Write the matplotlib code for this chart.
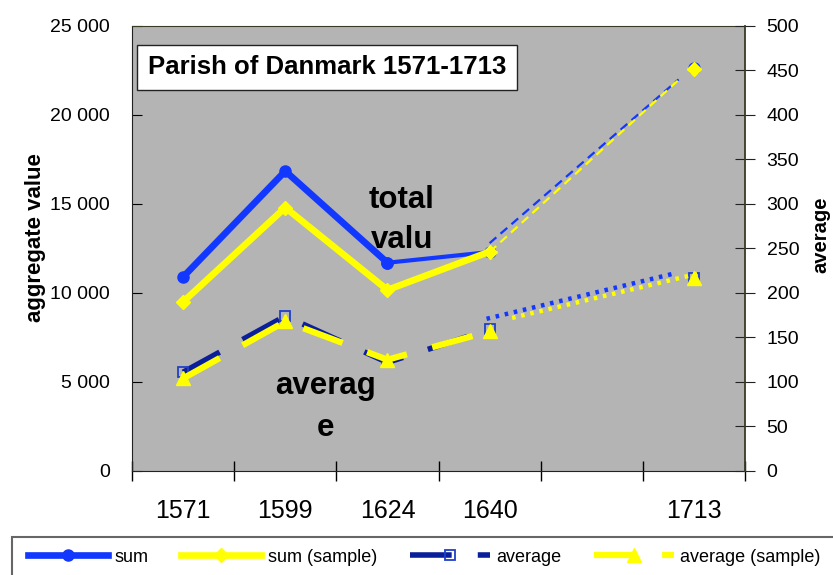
import numpy as np
import matplotlib
matplotlib.use("Agg")
import matplotlib.pyplot as plt
from matplotlib.patches import Rectangle
from matplotlib.ticker import FuncFormatter, FixedLocator

plt.rcParams['font.family'] = ['Liberation Sans', 'DejaVu Sans']

# data
years = ['1571', '1599', '1624', '1640', '', '1713']
total = [10900, 16850, 11700, 12300, np.nan, 22640]          # sum
total_s = [9500, 14800, 10170, 12320, np.nan, 22600]         # sum (sample)
avg = [111, 174, 122, 159, np.nan, 217]                      # average
avg_s = [104, 168, 125, 157, np.nan, 217]                    # average (sample)

# hand drawn connectors 1640 -> 1713 (category position, value)
link_x = [3.0, 4.85]
link_total = [12800, 22000]
link_total_s = [12300, 21970]
link_avg_x = [2.97, 4.81]
link_avg = [171, 222]
link_avg_s_x = [3.22, 5.05]
link_avg_s = [172, 222]

blue = '#1238ff'
navy = '#0a1f99'
yellow = '#ffff00'

fig = plt.figure(figsize=(8.33, 5.75), dpi=100)
ax = fig.add_axes([0.1585, 0.1809, 0.7359, 0.7739])
ax.set_facecolor('#b4b4b4')
x = np.arange(len(years))

# sum: the 1624-1640 piece is drawn thinner in the original
l1, = ax.plot(x[:3], total[:3], color=blue, lw=4.8, marker='o', ms=8, mfc=blue, mec=blue, label='sum', zorder=3)
ax.plot(x[2:], total[2:], color=blue, lw=3, marker='o', ms=8, mfc=blue, mec=blue, zorder=3)
l2, = ax.plot(x, total_s, color=yellow, lw=4.8, marker='D', ms=7, mfc=yellow, mec=yellow, label='sum (sample)', zorder=3)
ax.plot(link_x, link_total, color=blue, lw=1.6, dashes=(4, 2.5), zorder=4)
ax.plot(link_x, link_total_s, color=yellow, lw=1.6, dashes=(4, 2.5), zorder=4)

ax.set_xlim(-0.5, 5.5)
ax.set_ylim(0, 25000)
ax.set_yticks(np.arange(0, 25001, 5000))
ax.yaxis.set_major_formatter(FuncFormatter(lambda v, p: f'{int(v):,}'.replace(',', ' ')))
ax.tick_params(axis='y', direction='in', length=7, pad=16, labelsize=14, colors='black')
ax.xaxis.set_major_locator(FixedLocator(np.arange(-0.5, 6, 1)))
ax.xaxis.set_minor_locator(FixedLocator(x))
ax.set_xticklabels([], minor=False)
ax.set_xticklabels(years, minor=True)
ax.tick_params(axis='x', which='major', direction='inout', length=14, width=1)
ax.tick_params(axis='x', which='minor', length=0, pad=20, labelsize=18)
ax.set_ylabel('aggregate value', fontsize=16, fontweight='bold')
ax.yaxis.set_label_coords(-0.14, 0.525)
for s in ['left', 'bottom']:
    ax.spines[s].set_color('#222222')
ax.spines['top'].set_color('#3a3a22')
ax.spines['right'].set_visible(False)

ax2 = ax.twinx()
l3, = ax2.plot(x, avg, color=navy, lw=4, dashes=(7.5, 4.7), marker='s', ms=7, mfc='none', mec='#2040c8',
               mew=1.3, label='average', zorder=3)
l4, = ax2.plot(x, avg_s, color=yellow, lw=4.5, dashes=(6.7, 4.2), marker='^', ms=10, mfc=yellow, mec=yellow,
               label='average (sample)', zorder=3)
ax2.plot(link_avg_x, link_avg, color=blue, lw=3.2, dashes=(0.8, 1.3), zorder=4)
ax2.plot(link_avg_s_x, link_avg_s, color=yellow, lw=3.2, dashes=(0.8, 1.3), zorder=4)
ax2.set_ylim(0, 500)
ax2.set_yticks(np.arange(0, 501, 50))
ax2.tick_params(axis='y', direction='inout', length=15, pad=8, labelsize=14, color='#222222')
ax2.spines['right'].set_color('#3a3a22')
ax2.spines['right'].set_linewidth(1.3)
for s in ['left', 'top', 'bottom']:
    ax2.spines[s].set_visible(False)
ax2.set_ylabel('average', fontsize=14.5, fontweight='bold')
ax2.yaxis.set_label_coords(1.109, 0.53)

ax.text(0.318, 0.907, 'Parish of Danmark 1571-1713', transform=ax.transAxes, ha='center', va='center',
        fontsize=18.5, fontweight='bold',
        bbox=dict(boxstyle='square,pad=0.42', fc='white', ec='#222222', lw=1))
ax.text(2.14, 14100, 'total\nvalu', ha='center', va='center', fontsize=22.5, fontweight='bold',
        linespacing=1.45, zorder=2)
ax.text(1.39, 3600, 'averag\ne', ha='center', va='center', fontsize=22.5, fontweight='bold',
        linespacing=1.5, zorder=2)

fig.patches.append(Rectangle((0.0144, -0.05), 1.1, 0.116, transform=fig.transFigure,
                             fc='white', ec='#666666', lw=1.5))
fig.legend(handles=[l1, l2, l3, l4], loc='center left', bbox_to_anchor=(0.034, 0.031), ncol=4,
           frameon=False, handlelength=4.44, handletextpad=0.35, columnspacing=1.8,
           borderpad=0, borderaxespad=0, prop={'size': 13})

fig.savefig('out.png', dpi=100)
